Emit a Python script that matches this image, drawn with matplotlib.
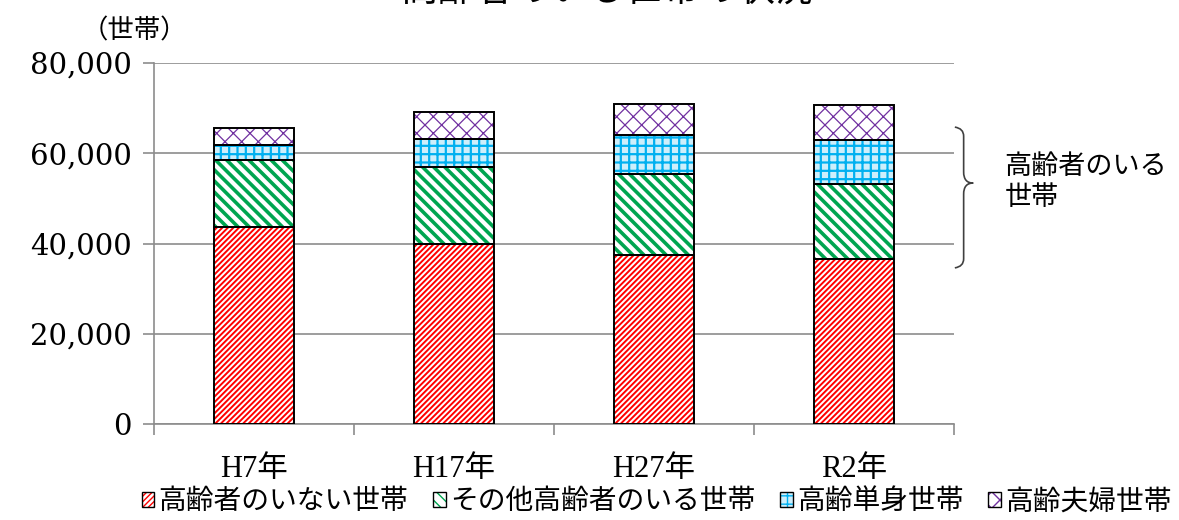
import numpy as np
import matplotlib
matplotlib.use("Agg")
import matplotlib.pyplot as plt
from matplotlib.patches import Patch, PathPatch
from matplotlib.path import Path
from matplotlib.legend_handler import HandlerTuple
import matplotlib.transforms as mtransforms

plt.rcParams['font.family'] = ['Noto Sans CJK JP', 'DejaVu Sans']

years = ['H7年', 'H17年', 'H27年', 'R2年']
no_elderly = [43700, 40000, 37400, 36600]
other_elderly = [14800, 17000, 17900, 16700]
single_elderly = [3400, 6200, 8700, 9600]
couple_elderly = [3700, 5900, 6900, 7900]

series_names = ['高齢者のいない世帯', 'その他高齢者のいる世帯', '高齢単身世帯', '高齢夫婦世帯']
series = [no_elderly, other_elderly, single_elderly, couple_elderly]
# (hatch, hatch colour, face colour, hatch width)
styles = [
    ('//////', '#ff0000', 'white', 1.4),
    ('\\\\\\', '#00a550', 'white', 2.6),
    ('++', '#00b0f0', '#cdeefb', 1.6),
    ('xx', '#7030a0', 'white', 0.9),
]

fig = plt.figure(figsize=(11.79, 5.20), dpi=100)
ax = fig.add_axes([0.1306, 0.1846, 0.6786, 0.6942])

x = np.arange(len(years))
bottom = np.zeros(len(years))
handles = []
for vals, (hatch, hc, fc, hlw) in zip(series, styles):
    vals = np.array(vals)
    with plt.rc_context({'hatch.linewidth': hlw}):
        bars = ax.bar(x, vals, 0.4, bottom=bottom, color=fc, edgecolor=hc,
                      hatch=hatch, linewidth=0, zorder=3)
        for b in bars:
            if hasattr(b, 'set_hatch_linewidth'):
                b.set_hatch_linewidth(hlw)
        ax.bar(x, vals, 0.4, bottom=bottom, fill=False, edgecolor='black',
               linewidth=1.4, zorder=4)
        h1 = Patch(facecolor=fc, edgecolor=hc, hatch=hatch, linewidth=0)
        if hasattr(h1, 'set_hatch_linewidth'):
            h1.set_hatch_linewidth(hlw)
    h2 = Patch(fill=False, edgecolor='black', linewidth=1.0)
    handles.append((h1, h2))
    bottom = bottom + vals

ax.set_xlim(-0.5, len(years) - 0.5)
ax.set_ylim(0, 80000)
ax.set_yticks(np.arange(0, 80001, 20000))
ax.set_yticklabels([f'{v:,}' for v in np.arange(0, 80001, 20000)],
                   family=['DejaVu Serif'], fontsize=21)
ax.set_xticks(x)
ax.set_xticklabels(years, family=['Liberation Serif', 'Noto Sans CJK JP'], fontsize=22)
ax.set_xticks(np.arange(-0.5, len(years)), minor=True)
ax.tick_params(axis='x', which='major', length=0, pad=22)
ax.tick_params(axis='x', which='minor', length=8, color='#8c8c8c', width=1.2)
ax.tick_params(axis='y', length=8, color='#8c8c8c', width=1.2, pad=8)

ax.grid(axis='y', color='#8c8c8c', linewidth=1.2, zorder=0)
ax.set_axisbelow(True)
for s in ['top', 'right']:
    ax.spines[s].set_visible(False)
for s in ['left', 'bottom']:
    ax.spines[s].set_color('#8c8c8c')
    ax.spines[s].set_linewidth(1.2)

# brace for households with elderly
tr = mtransforms.blended_transform_factory(ax.transAxes, ax.transData)
y_top, y_mid, y_bot = 65800, 53400, 34600
verts = [(1.001, y_top), (1.012, y_top - 300), (1.012, y_top - 2000),
         (1.012, y_mid + 2500),
         (1.012, y_mid + 800), (1.016, y_mid), (1.024, y_mid),
         (1.016, y_mid), (1.012, y_mid - 800), (1.012, y_mid - 2500),
         (1.012, y_bot + 2000),
         (1.012, y_bot + 300), (1.001, y_bot)]
codes = [Path.MOVETO, Path.CURVE3, Path.CURVE3, Path.LINETO,
         Path.CURVE4, Path.CURVE4, Path.CURVE4,
         Path.CURVE4, Path.CURVE4, Path.CURVE4,
         Path.LINETO, Path.CURVE3, Path.CURVE3]
ax.add_patch(PathPatch(Path(verts, codes), transform=tr, fill=False,
                       edgecolor='#404040', linewidth=1.2, clip_on=False))
fig.text(0.852, 0.65, '高齢者のいる\n世帯', fontsize=19.5, va='center', ha='left',
         linespacing=1.15)

fig.text(0.1137, 0.94, '（世帯）', fontsize=19, ha='center', va='center')
fig.text(0.515, 1 - 0.5 / 520, '高齢者のいる世帯の状況', fontsize=27, ha='center',
         va='baseline')

fig.legend(handles, series_names, loc='center', bbox_to_anchor=(0.557, 0.036),
           ncol=4, frameon=False, fontsize=20, handlelength=0.45,
           handleheight=0.45, handletextpad=0.15, columnspacing=0.9,
           handler_map={tuple: HandlerTuple(ndivide=1)})

fig.savefig('out.png', dpi=100)
